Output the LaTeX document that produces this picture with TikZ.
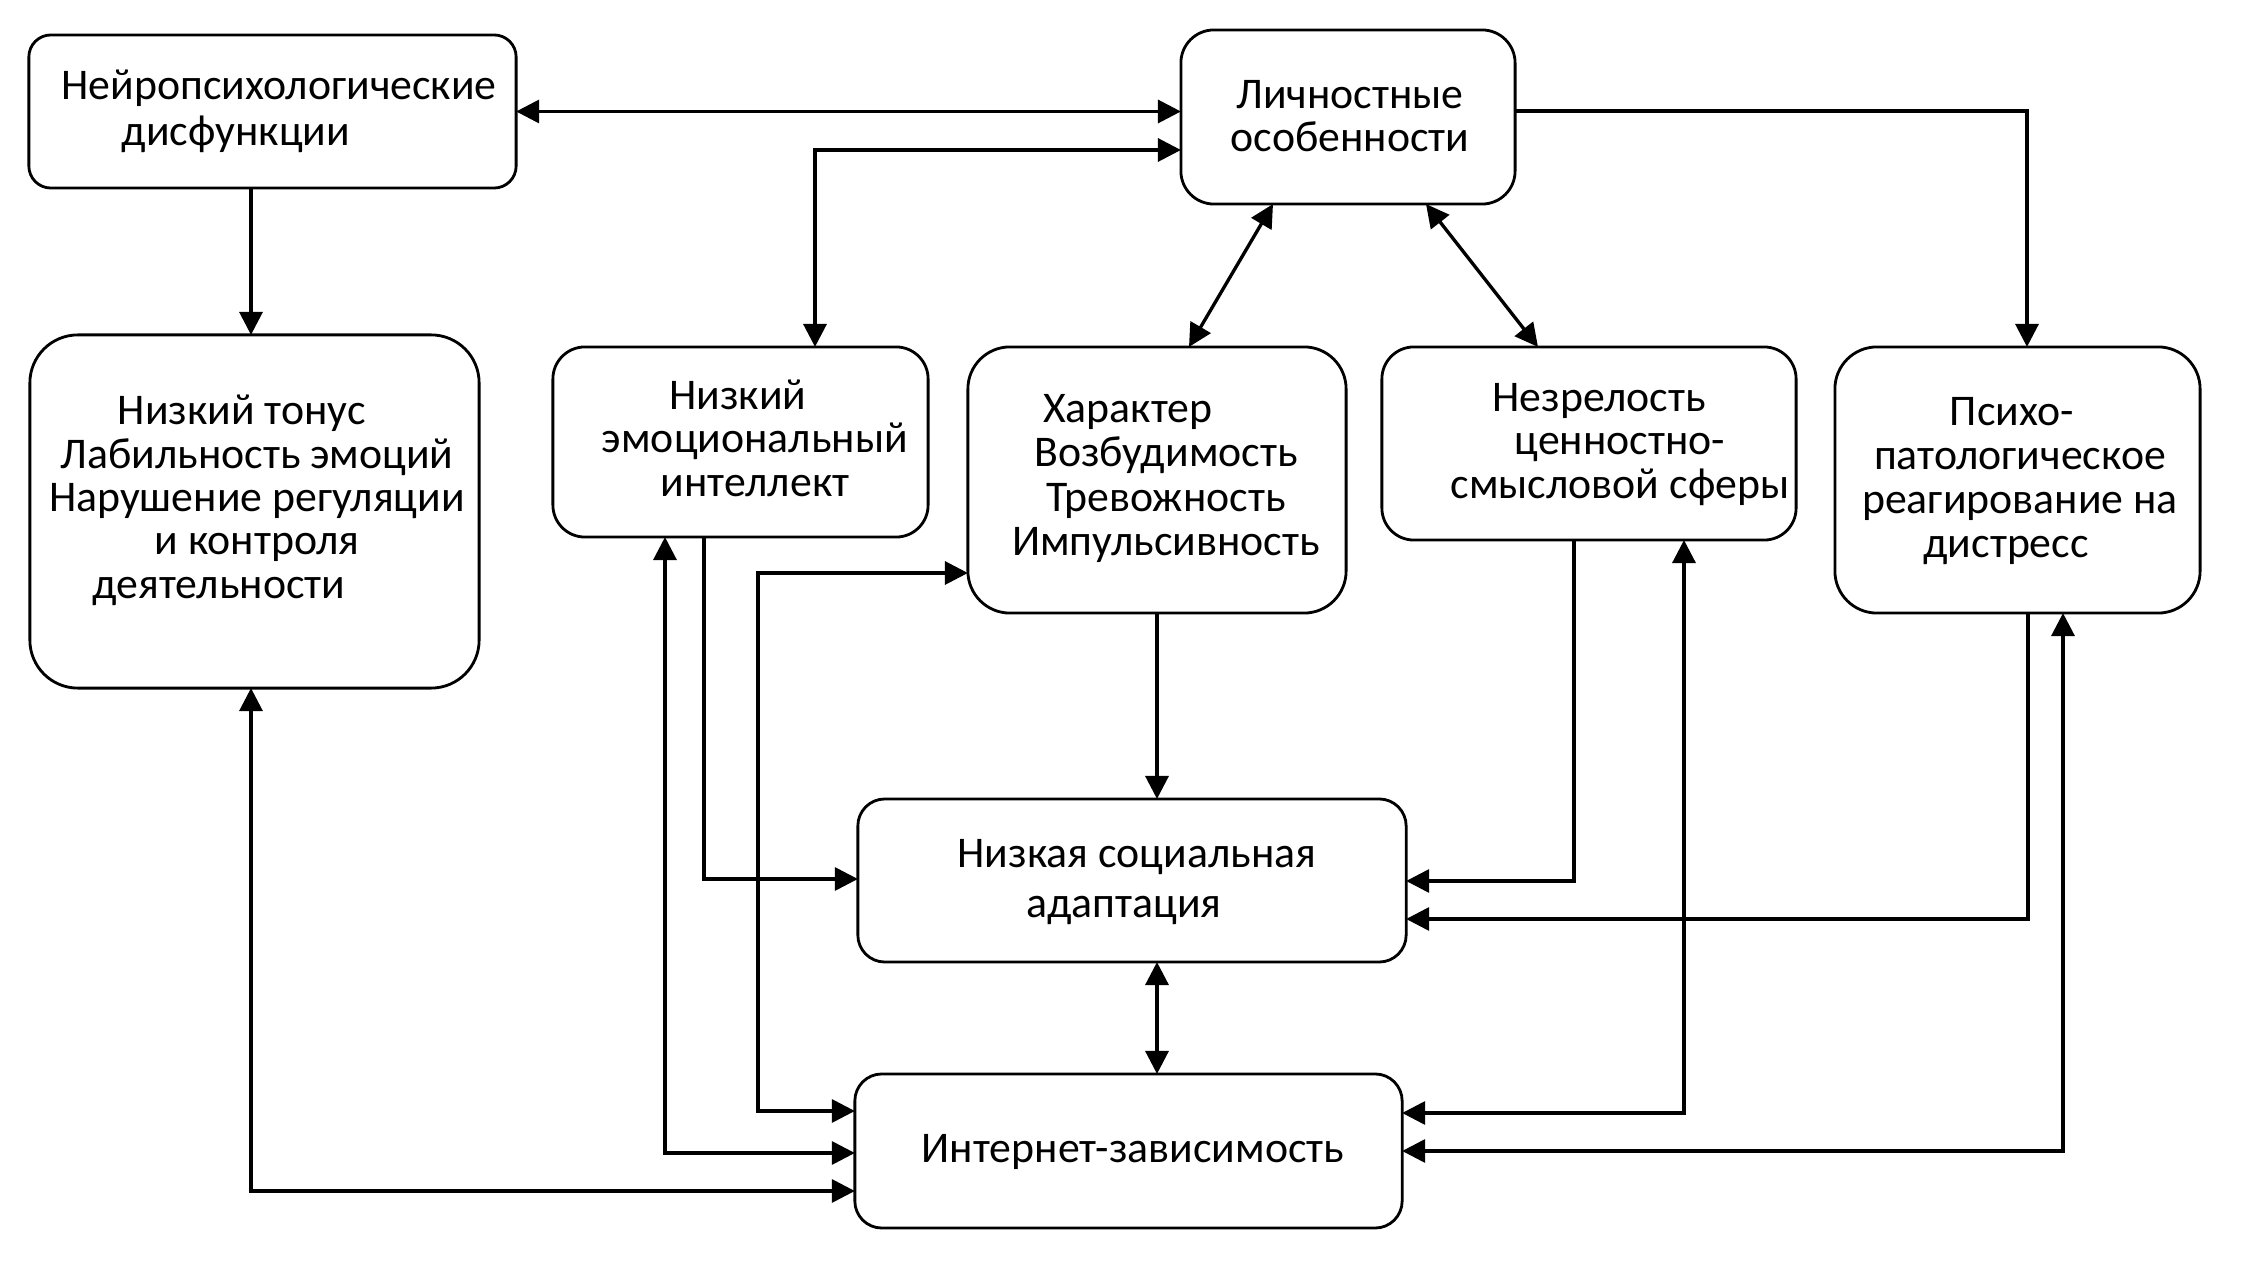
\documentclass[tikz,border=0pt]{standalone}
\usepackage{fontspec}
\setmainfont{Carlito}
\usetikzlibrary{arrows.meta}
\begin{document}
\begin{tikzpicture}[x=0.01cm,y=-0.01cm,
  box/.style={draw, line width=0.8pt, inner sep=0pt, outer sep=0pt},
  txt/.style={inner sep=0pt, align=center},
  arr/.style={line width=0.95pt, -{Triangle[length=2.3mm,width=2.3mm]}},
  darr/.style={line width=0.95pt, {Triangle[length=2.3mm,width=2.3mm]}-{Triangle[length=2.3mm,width=2.3mm]}}]
\useasboundingbox (0,0) rectangle (2244,1270);
% boxes
\node[box, rounded corners=0.22cm, minimum width=4.87cm, minimum height=1.53cm] (b1) at (272.5,111.5) {};
\node[box, rounded corners=0.33cm, minimum width=3.34cm, minimum height=1.74cm] (b2) at (1348,117) {};
\node[box, rounded corners=0.48cm, minimum width=4.49cm, minimum height=3.53cm] (b3) at (254.5,511.5) {};
\node[box, rounded corners=0.32cm, minimum width=3.75cm, minimum height=1.90cm] (b4) at (740.5,442) {};
\node[box, rounded corners=0.42cm, minimum width=3.78cm, minimum height=2.66cm] (b5) at (1157,480) {};
\node[box, rounded corners=0.32cm, minimum width=4.14cm, minimum height=1.93cm] (b6) at (1589,443.5) {};
\node[box, rounded corners=0.42cm, minimum width=3.65cm, minimum height=2.66cm] (b7) at (2017.5,480) {};
\node[box, rounded corners=0.27cm, minimum width=5.48cm, minimum height=1.63cm] (b8) at (1132,880.5) {};
\node[box, rounded corners=0.27cm, minimum width=5.47cm, minimum height=1.54cm] (b9) at (1128.5,1151) {};
% texts
\node[txt, font=\fontsize{12.45}{12.8}\selectfont] (t1) at (279,113.5) {\strut Нейропсихологические\\дисфункции\strut\hspace*{0.86cm}};
\node[txt, font=\fontsize{12.45}{12.5}\selectfont] (t2) at (1350,121.2) {\strut Личностные\\особенности\strut};
\node[txt, font=\fontsize{12.45}{12.32}\selectfont] (t3) at (257,502.8) {\strut Низкий тонус\hspace*{0.30cm}\\Лабильность эмоций\hspace*{0.08cm}\\Нарушение регуляции\\и контроля\hspace*{0.82cm}\\деятельности\strut\hspace*{0.76cm}};
\node[txt, font=\fontsize{12.45}{12.3}\selectfont] (t4) at (755,444.3) {\strut Низкий\hspace*{0.34cm}\\эмоциональный\\интеллект\strut};
\node[txt, font=\fontsize{12.45}{12.52}\selectfont] (t5) at (1166,480.2) {\strut Характер\hspace*{0.76cm}\\Возбудимость\hspace*{0.14cm}\\Тревожность\hspace*{0.20cm}\\Импульсивность\strut};
\node[txt, font=\fontsize{12.45}{12.3}\selectfont] (t6) at (1620,446.3) {\strut Незрелость\hspace*{0.42cm}\\ценностно-\hspace*{0.20cm}\\смысловой сферы\strut};
\node[txt, font=\fontsize{12.45}{12.43}\selectfont] (t7) at (2020,482.8) {\strut Психо-\hspace*{0.16cm}\\патологическое\hspace*{0.04cm}\\реагирование на\\дистресс\strut\hspace*{0.28cm}};
\node[txt, font=\fontsize{12.45}{14.2}\selectfont] (t8) at (1137,882.5) {\strut Низкая социальная\\адаптация\strut\hspace*{0.26cm}};
\node[txt, font=\fontsize{12.45}{12.4}\selectfont] (t9) at (1133,1153.3) {\strut Интернет-зависимость\strut};
% helper coordinates
\coordinate (c2) at (815,150);
\coordinate (c3a) at (1273,0);
\coordinate (c3b) at (1189,0);
\coordinate (c4a) at (1426,0);
\coordinate (c4b) at (1538,0);
\coordinate (c5) at (2027,111);
\coordinate (c6) at (251,0);
\coordinate (c7) at (251,1191);
\coordinate (c8) at (665,1153);
\coordinate (c9) at (704,879);
\coordinate (c10a) at (758,573);
\coordinate (c10b) at (758,1111);
\coordinate (c13) at (1574,881);
\coordinate (c14) at (1684,1113);
\coordinate (c15) at (2028,919);
\coordinate (c16) at (2063,1151);
% connectors
\draw[darr] (b1.east) -- (b1.east -| b2.west);
\draw[darr] (b4.north -| c2) |- (b2.west |- c2);
\draw[darr] (b2.south -| c3a) -- (b5.north -| c3b);
\draw[darr] (b2.south -| c4a) -- (b6.north -| c4b);
\draw[arr] (b2.east |- c5) -| (b7.north -| c5);
\draw[arr] (b1.south -| c6) -- (b3.north -| c6);
\draw[darr] (b3.south -| c7) |- (b9.west |- c7);
\draw[darr] (b4.south -| c8) |- (b9.west |- c8);
\draw[arr] (b4.south -| c9) |- (b8.west |- c9);
\draw[darr] (b5.west |- c10a) -| (c10b) -- (b9.west |- c10b);
\draw[arr] (b5.south) -- (b5.south |- b8.north);
\draw[darr] (b8.south -| b5.south) -- (b9.north -| b5.south);
\draw[arr] (b6.south -| c13) |- (b8.east |- c13);
\draw[darr] (b6.south -| c14) |- (b9.east |- c14);
\draw[arr] (b7.south -| c15) |- (b8.east |- c15);
\draw[darr] (b7.south -| c16) |- (b9.east |- c16);
\end{tikzpicture}
\end{document}
